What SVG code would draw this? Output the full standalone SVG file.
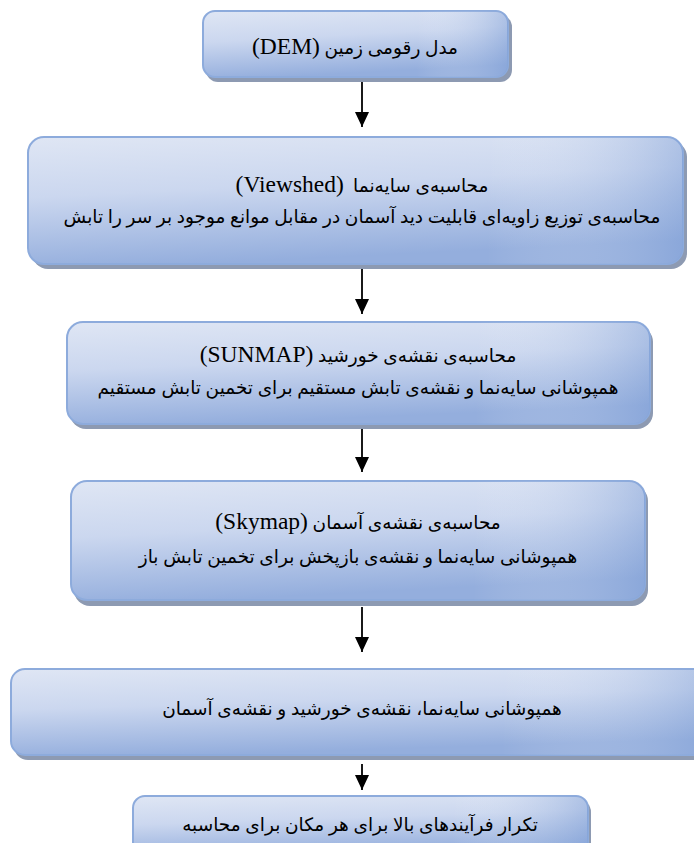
<svg xmlns="http://www.w3.org/2000/svg" width="694" height="843" viewBox="0 0 694 843">
<defs>
<linearGradient id="fill" x1="0" y1="0" x2="0.25" y2="1">
<stop offset="0" stop-color="#dfe6f4"/>
<stop offset="0.45" stop-color="#cbd7ef"/>
<stop offset="1" stop-color="#94aedd"/>
</linearGradient>
<linearGradient id="sheen" x1="0" y1="0" x2="1" y2="0">
<stop offset="0" stop-color="#ffffff" stop-opacity="0"/>
<stop offset="0.7" stop-color="#ffffff" stop-opacity="0"/>
<stop offset="1" stop-color="#7f9fd6" stop-opacity="0.45"/>
</linearGradient>
<marker id="arr" viewBox="0 0 15 14" refX="15" refY="7" markerWidth="15" markerHeight="14" markerUnits="userSpaceOnUse" orient="auto">
<path d="M0,0 L15,7 L0,14 Z" fill="#000"/>
</marker>
</defs>
<style>
.shadow{fill:#8d9ab2;}
.box{fill:url(#fill);stroke:#8dabdc;stroke-width:2;}
.sheen{fill:url(#sheen);stroke:none;}
.t{font-family:"Liberation Serif","DejaVu Sans",serif;font-size:18.5px;fill:#000;text-anchor:middle;}
.lat{font-size:23.5px;}
.conn line{stroke:#000;stroke-width:1.8;}
</style>
<g id="connectors" class="conn">
<line x1="362" y1="82" x2="362" y2="127" marker-end="url(#arr)"/>
<line x1="362" y1="268" x2="362" y2="314" marker-end="url(#arr)"/>
<line x1="362" y1="428" x2="362" y2="472" marker-end="url(#arr)"/>
<line x1="362" y1="607" x2="362" y2="652" marker-end="url(#arr)"/>
<line x1="362" y1="764" x2="362" y2="790" marker-end="url(#arr)"/>
</g>
<g id="n1">
<rect class="shadow" x="206" y="15" width="306" height="67" rx="12"/>
<rect class="box" x="203" y="11" width="305" height="66" rx="12"/>
<rect class="sheen" x="203" y="11" width="305" height="66" rx="12"/>
<text class="t" x="355" y="54" direction="rtl">مدل رقومی زمین <tspan class="lat">(DEM)</tspan></text>
</g>
<g id="n2">
<rect class="shadow" x="32" y="141" width="655" height="128" rx="16"/>
<rect class="box" x="28" y="137" width="655" height="127" rx="16"/>
<rect class="sheen" x="28" y="137" width="655" height="127" rx="16"/>
<text class="t" x="362" y="192" direction="rtl">محاسبه‌ی سایه‌نما &#160;<tspan class="lat">(Viewshed)</tspan></text>
<text class="t" x="362" y="223" direction="rtl">محاسبه‌ی توزیع زاویه‌ای قابلیت دید آسمان در مقابل موانع موجود بر سر را تابش</text>
</g>
<g id="n3">
<rect class="shadow" x="70" y="326" width="583" height="103" rx="16"/>
<rect class="box" x="67" y="322" width="583" height="102" rx="16"/>
<rect class="sheen" x="67" y="322" width="583" height="102" rx="16"/>
<text class="t" x="358" y="362" direction="rtl">محاسبه‌ی نقشه‌ی خورشید <tspan class="lat">(SUNMAP)</tspan></text>
<text class="t" x="358" y="394" direction="rtl">همپوشانی سایه‌نما و نقشه‌ی تابش مستقیم برای تخمین تابش مستقیم</text>
</g>
<g id="n4">
<rect class="shadow" x="74" y="485" width="574" height="121" rx="16"/>
<rect class="box" x="71" y="481" width="574" height="119" rx="16"/>
<rect class="sheen" x="71" y="481" width="574" height="119" rx="16"/>
<text class="t" x="358" y="529" direction="rtl">محاسبه‌ی نقشه‌ی آسمان <tspan class="lat">(Skymap)</tspan></text>
<text class="t" x="358" y="563" direction="rtl">همپوشانی سایه‌نما و نقشه‌ی بازپخش برای تخمین تابش باز</text>
</g>
<g id="n5">
<rect class="shadow" x="14" y="673" width="700" height="87" rx="14"/>
<rect class="box" x="11" y="669" width="700" height="86" rx="14"/>
<rect class="sheen" x="11" y="669" width="700" height="86" rx="14"/>
<text class="t" x="362" y="715" direction="rtl">همپوشانی سایه‌نما، نقشه‌ی خورشید و نقشه‌ی آسمان</text>
</g>
<g id="n6">
<rect class="shadow" x="136" y="800" width="455" height="60" rx="12"/>
<rect class="box" x="133" y="796" width="455" height="60" rx="12"/>
<rect class="sheen" x="133" y="796" width="455" height="60" rx="12"/>
<text class="t" x="360" y="831" direction="rtl">تکرار فرآیندهای بالا برای هر مکان برای محاسبه</text>
</g>
</svg>
